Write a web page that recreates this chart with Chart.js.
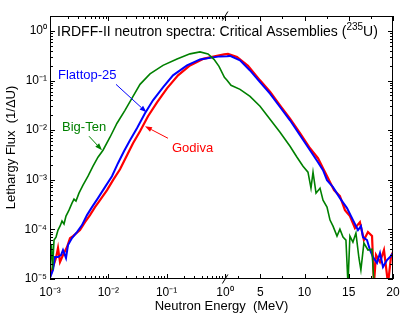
<!DOCTYPE html>
<html>
<head>
<meta charset="utf-8">
<script src="https://cdn.jsdelivr.net/npm/chart.js@4/dist/chart.umd.min.js"></script>
<style>
html,body{margin:0;padding:0;background:#fff;}
#wrap{width:415px;height:318px;}
canvas{display:block;}
</style>
</head>
<body>
<div id="wrap"><canvas id="c" width="415" height="318"></canvas></div>
<script>
// ---------------- data (energy in MeV, lethargy flux 1/ΔU) ----------------
const TITLE_MAIN = 'IRDFF-II neutron spectra: Critical Assemblies (';
const TITLE_SUP = '235';
const TITLE_END = 'U)';
const X_TITLE = 'Neutron Energy  (MeV)';
const Y_TITLE = 'Lethargy Flux  (1/\u0394U)';

const godivaEnergy = [0.001,1.125e-3,1.267e-3,1.372e-3,1.484e-3,1.671e-3,1.96e-3,2.204e-3,2.48e-3,3.27e-3,3.98e-3,4.85e-3,5.91e-3,7.21e-3,9.51e-3,1.205e-2,1.589e-2,2.094e-2,2.655e-2,3.50e-2,4.80e-2,6.85e-2,0.1016,0.157,0.252,0.420,0.731,0.97,1.35,2.368,3.611,4.967,6.098,7.229,8.359,9.489,10.62,11.52,12.09,12.65,13.33,14.0,14.57,15.13,15.70,16.26,16.71,17.17,17.63,17.85,18.08,18.53,18.98,19.44,19.78,20.0];
const godivaFlux = [1.10e-5,1.75e-5,2.65e-5,4.21e-5,2.20e-5,3.04e-5,4.41e-5,6.68e-5,7.33e-5,9.68e-5,1.40e-4,1.94e-4,2.81e-4,3.89e-4,6.18e-4,9.81e-4,1.63e-3,3.13e-3,5.45e-3,9.51e-3,1.91e-2,3.64e-2,6.97e-2,0.127,0.202,0.273,0.314,0.337,0.345,0.300,0.198,0.101,0.0593,0.0317,0.0170,8.67e-3,4.32e-3,2.72e-3,1.71e-3,1.08e-3,6.18e-4,4.68e-4,2.44e-4,1.85e-4,1.06e-4,1.40e-4,6.09e-5,8.83e-5,7.33e-5,8e-6,3.04e-5,2.20e-5,3.84e-5,8e-6,2.9e-5,3.5e-5];

const flattopEnergy = [0.001,1.125e-3,1.218e-3,1.372e-3,1.545e-3,1.671e-3,1.881e-3,2.036e-3,2.384e-3,2.904e-3,3.538e-3,4.31e-3,5.25e-3,6.65e-3,8.77e-3,1.156e-2,1.466e-2,1.858e-2,2.355e-2,3.10e-2,4.26e-2,5.84e-2,8.67e-2,0.1288,0.224,0.374,0.625,0.824,1.24,1.576,2.707,3.837,4.967,6.098,7.229,8.359,9.489,10.62,11.52,12.09,12.54,13.22,14.0,14.80,15.48,16.04,16.38,16.61,17.06,17.40,17.74,18.19,18.53,18.87,19.32,19.66,20.0];
const flattopFlux = [1.05e-5,1.52e-5,2.77e-5,2.77e-5,3.04e-5,3.84e-5,2.65e-5,4.83e-5,6.68e-5,8.83e-5,1.22e-4,1.94e-4,2.81e-4,4.27e-4,7.10e-4,1.18e-3,2.16e-3,3.76e-3,6.26e-3,1.09e-2,2.19e-2,4.00e-2,7.30e-2,0.1272,0.202,0.267,0.293,0.307,0.309,0.314,0.255,0.160,0.0933,0.0545,0.0293,0.0158,7.89e-3,3.94e-3,2.26e-3,1.56e-3,9.8e-4,7.10e-4,4.27e-4,2.69e-4,1.54e-4,9.7e-5,1.16e-4,7.0e-5,6.09e-5,3.84e-5,2.77e-5,2.10e-5,3.33e-5,1.74e-5,2.41e-5,2.77e-5,3.33e-5];

const bigTenEnergy = [0.001,1.061e-3,1.104e-3,1.172e-3,1.268e-3,1.372e-3,1.485e-3,1.607e-3,1.739e-3,1.881e-3,2.118e-3,2.384e-3,2.58e-3,2.79e-3,3.14e-3,3.68e-3,4.49e-3,5.47e-3,6.65e-3,8.11e-3,1.069e-2,1.410e-2,1.93e-2,2.655e-2,3.50e-2,5.19e-2,8.67e-2,0.151,0.252,0.374,0.513,0.650,0.792,0.98,1.24,1.69,2.71,3.84,4.97,6.10,7.23,8.36,9.15,9.83,10.39,10.73,10.96,11.3,11.75,12.09,12.54,12.88,13.22,13.67,14.0,14.35,14.68,14.91,15.13,15.47,15.81,16.15,16.37,16.71,17.17,17.62,17.85];
const bigTenFlux = [1.91e-5,4.83e-5,1.52e-5,6.09e-5,7.0e-5,9.68e-5,1.16e-4,1.47e-4,1.28e-4,1.85e-4,2.44e-4,3.38e-4,4.07e-4,3.71e-4,5.37e-4,7.78e-4,1.18e-3,1.88e-3,2.85e-3,3.94e-3,7.20e-3,1.38e-2,2.51e-2,4.81e-2,8.39e-2,0.136,0.202,0.273,0.345,0.378,0.345,0.267,0.193,0.116,0.101,0.080,0.0665,0.0481,0.0303,0.0166,9.08e-3,4.74e-3,2.85e-3,1.88e-3,1.42e-3,6.78e-4,1.42e-3,5.37e-4,6.78e-4,3.89e-4,2.81e-4,1.54e-4,1.16e-4,7.33e-5,1.01e-4,7.0e-5,6.09e-5,8e-6,7.33e-5,5.55e-5,8.43e-5,2.65e-5,1.52e-5,5.30e-5,3.84e-5,4.0e-5,8e-6];

// axis ticks (energy: log part 1e-3..1, linear part 1..20)
const X_MAJOR = [0.001,0.01,0.1,1,5,10,15,20];
const X_MINOR = [0.002,0.003,0.004,0.005,0.006,0.007,0.008,0.009,0.02,0.03,0.04,0.05,0.06,0.07,0.08,0.09,0.2,0.3,0.4,0.5,0.6,0.7,0.8,0.9,2.5,7.5,12.5,17.5];
const Y_MAJOR = [1e-5,1e-4,1e-3,1e-2,1e-1,1];
const Y_MINOR = [];
[1e-5,1e-4,1e-3,1e-2,1e-1].forEach(d => { for (let k = 2; k <= 9; k++) Y_MINOR.push(+(k*d).toPrecision(3)); });

// curve labels (anchor = left/baseline of text, arrow from -> to), data units
const NOTES = [
  {text:'Flattop-25', color:'#0000ff', at:[1.37e-3,0.1057], from:[0.01355,0.0839], to:[0.0452,0.0229]},
  {text:'Big-Ten',    color:'#008000', at:[1.61e-3,9.72e-3], from:[4.67e-3,7.54e-3], to:[7.8e-3,3.94e-3]},
  {text:'Godiva',     color:'#ff0000', at:[0.1238,3.64e-3], from:[0.1056,6.87e-3], to:[0.0426,0.01198]}
];

// ---------------- split log/linear energy scale ----------------
const LIN_K = 0.15175; // decades per MeV in the linear part
class SplitEnergyScale extends Chart.LinearScale {
  tf(v){ return v <= 1 ? Math.log10(v) : (v - 1) * LIN_K; }
  determineDataLimits(){ this.min = this.tf(this.options.min); this.max = this.tf(this.options.max); }
  buildTicks(){ return X_MAJOR.concat(X_MINOR).sort((a,b)=>a-b).map(v => ({value:v})); }
  getPixelForValue(v){
    if (v === null || v === undefined || isNaN(v)) return NaN;
    return super.getPixelForValue(this.tf(v));
  }
  getValueForPixel(p){
    const t = super.getValueForPixel(p);
    return t <= 0 ? Math.pow(10, t) : 1 + t / LIN_K;
  }
}
SplitEnergyScale.id = 'splitEnergy';
SplitEnergyScale.defaults = {};
Chart.register(SplitEnergyScale);

const SUP = {'0':'\u2070','1':'\u00b9','2':'\u00b2','3':'\u00b3','4':'\u2074','5':'\u2075','6':'\u2076','7':'\u2077','8':'\u2078','9':'\u2079','-':'\u207b'};
function pow10Label(v){
  const e = Math.round(Math.log10(v));
  return '10' + String(e).split('').map(c => SUP[c]).join('');
}
function isIn(arr, v){ return arr.some(a => Math.abs(a - v) < 1e-12 * Math.max(1, Math.abs(a)) || Math.abs(a-v)/a < 1e-9); }

const FONT = '"Liberation Sans", Arial, Helvetica, sans-serif';
Chart.defaults.font.family = FONT;
Chart.defaults.color = '#000';

function pts(E, F){ return E.map((e,i) => ({x:e, y:F[i]})); }

const decorPlugin = {
  id: 'decor',
  afterDraw(chart){
    const {ctx, chartArea:{left,right,top,bottom}, scales:{x,y}} = chart;
    ctx.save();
    ctx.strokeStyle = '#000';
    ctx.lineWidth = 1;
    // frame
    ctx.strokeRect(left + 0.5, top + 0.5, right - left - 1, bottom - top - 1);
    // inward ticks on all four sides
    ctx.beginPath();
    x.ticks.forEach(t => {
      const px = Math.round(x.getPixelForValue(t.value)) + 0.5;
      const len = isIn(X_MAJOR, t.value) ? 5 : 3;
      ctx.moveTo(px, bottom); ctx.lineTo(px, bottom - len);
      ctx.moveTo(px, top); ctx.lineTo(px, top + len);
    });
    y.ticks.forEach(t => {
      const py = Math.round(y.getPixelForValue(t.value)) + 0.5;
      const len = isIn(Y_MAJOR, t.value) ? 5 : 3;
      ctx.moveTo(left, py); ctx.lineTo(left + len, py);
      ctx.moveTo(right, py); ctx.lineTo(right - len, py);
    });
    ctx.stroke();
    // axis break marks at 1 MeV
    const bx = x.getPixelForValue(1);
    ctx.beginPath();
    ctx.moveTo(bx - 2.5, top + 4.5); ctx.lineTo(bx + 3, top - 4.5);
    ctx.moveTo(bx - 2.5, bottom + 4.5); ctx.lineTo(bx + 3, bottom - 4.5);
    ctx.stroke();
    // title inside the frame
    ctx.fillStyle = '#000';
    ctx.textBaseline = 'alphabetic';
    ctx.textAlign = 'left';
    ctx.font = '14px ' + FONT;
    let tx = left + 7, ty = top + 20;
    ctx.fillText(TITLE_MAIN, tx, ty);
    tx += ctx.measureText(TITLE_MAIN).width;
    ctx.font = '10px ' + FONT;
    ctx.fillText(TITLE_SUP, tx, ty - 6);
    tx += ctx.measureText(TITLE_SUP).width;
    ctx.font = '14px ' + FONT;
    ctx.fillText(TITLE_END, tx, ty);
    // curve labels with arrows
    NOTES.forEach(n => {
      ctx.fillStyle = n.color; ctx.strokeStyle = n.color;
      ctx.font = '13px ' + FONT;
      ctx.fillText(n.text, x.getPixelForValue(n.at[0]), y.getPixelForValue(n.at[1]));
      const x0 = x.getPixelForValue(n.from[0]), y0 = y.getPixelForValue(n.from[1]);
      const x1 = x.getPixelForValue(n.to[0]), y1 = y.getPixelForValue(n.to[1]);
      const ang = Math.atan2(y1 - y0, x1 - x0);
      const hl = 7, hw = 2.6;
      const bxp = x1 - hl * Math.cos(ang), byp = y1 - hl * Math.sin(ang);
      ctx.lineWidth = 1;
      ctx.beginPath(); ctx.moveTo(x0, y0); ctx.lineTo(bxp, byp); ctx.stroke();
      ctx.beginPath();
      ctx.moveTo(x1, y1);
      ctx.lineTo(bxp + hw * Math.sin(ang), byp - hw * Math.cos(ang));
      ctx.lineTo(bxp - hw * Math.sin(ang), byp + hw * Math.cos(ang));
      ctx.closePath(); ctx.fill();
    });
    ctx.restore();
  }
};

new Chart(document.getElementById('c'), {
  type: 'line',
  data: {
    datasets: [
      {label:'Big-Ten', data: pts(bigTenEnergy, bigTenFlux), borderColor:'#008000', borderWidth:1.6, order:1},
      {label:'Flattop-25', data: pts(flattopEnergy, flattopFlux), borderColor:'#0000ff', borderWidth:2, order:2},
      {label:'Godiva', data: pts(godivaEnergy, godivaFlux), borderColor:'#ff0000', borderWidth:2.2, order:3}
    ]
  },
  options: {
    responsive: false,
    animation: false,
    devicePixelRatio: 1,
    parsing: true,
    elements: { point: { radius: 0 }, line: { tension: 0, fill: false } },
    layout: { padding: { top: 16, right: 22, left: 0, bottom: 0 } },
    plugins: { legend: { display: false }, tooltip: { enabled: false }, title: { display: false } },
    scales: {
      x: {
        type: 'splitEnergy',
        min: 0.001, max: 20,
        grid: { display: false, drawTicks: false },
        border: { display: false },
        ticks: {
          autoSkip: false, maxRotation: 0, minRotation: 0, padding: 6,
          font: { size: 12 },
          callback: (v) => {
            if (!isIn(X_MAJOR, v)) return '';
            return v <= 1 ? pow10Label(v) : String(v);
          }
        },
        title: { display: true, text: X_TITLE, font: { size: 13 }, padding: { top: 2, bottom: 4 } },
        afterFit: (s) => { s.height = 39; }
      },
      y: {
        type: 'logarithmic',
        min: 1e-5, max: 2,
        bounds: 'data',
        grid: { display: false, drawTicks: false },
        border: { display: false },
        afterBuildTicks: (s) => { s.ticks = Y_MAJOR.concat(Y_MINOR).sort((a,b)=>a-b).map(v => ({value:v})); },
        ticks: {
          autoSkip: false, padding: 3,
          font: { size: 12 },
          callback: (v) => isIn(Y_MAJOR, v) ? pow10Label(v) : ''
        },
        title: { display: true, text: Y_TITLE, font: { size: 13 }, padding: { top: 4, bottom: 2 } },
        afterFit: (s) => { s.width = 50; }
      }
    }
  },
  plugins: [decorPlugin]
});
</script>
</body>
</html>
